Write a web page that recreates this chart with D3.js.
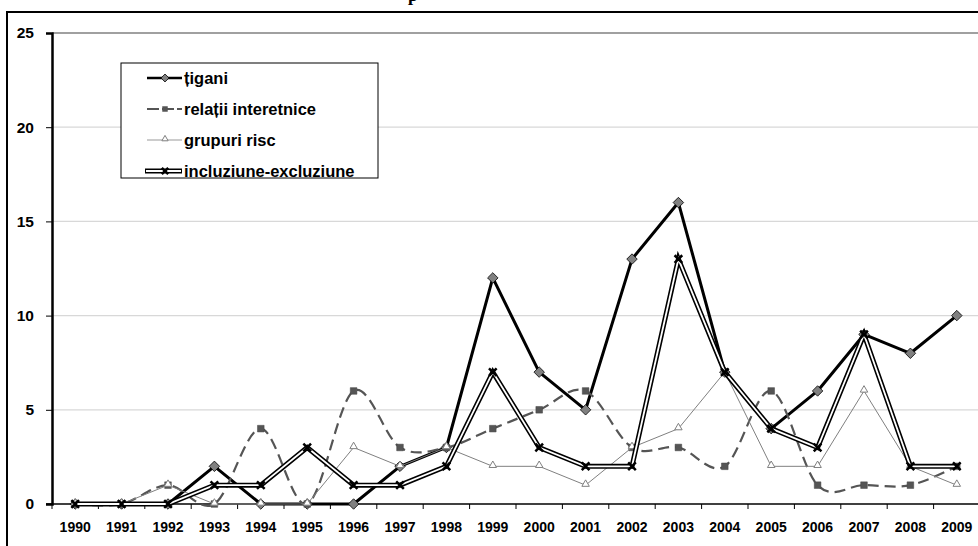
<!DOCTYPE html>
<html>
<head>
<meta charset="utf-8">
<script src="https://cdn.jsdelivr.net/npm/d3@7"></script>
<style>
  html, body { margin: 0; padding: 0; background: #fff; overflow: hidden; }
  svg { display: block; font-family: "Liberation Sans", Arial, sans-serif; }
</style>
</head>
<body>
<svg id="chart" width="978" height="546"></svg>
<script>
const years = ["1990","1991","1992","1993","1994","1995","1996","1997","1998","1999","2000","2001","2002","2003","2004","2005","2006","2007","2008","2009"];
const tigani = [0,0,0,2,0,0,0,2,3,12,7,5,13,16,7,4,6,9,8,10];
const relatii = [0,0,1,0,4,0,6,3,3,4,5,6,3,3,2,6,1,1,1,2];
const grupuri = [0,0,1,0,0,0,3,2,3,2,2,1,3,4,7,2,2,6,2,1];
const incluziune = [0,0,0,1,1,3,1,1,2,7,3,2,2,13,7,4,3,9,2,2];
const yTicks = [0,5,10,15,20,25];
const seriesNames = ["țigani","relații interetnice","grupuri risc","incluziune-excluziune"];

const svg = d3.select("#chart");

// outer chart border
svg.append("rect").attr("x", 7).attr("y", 12).attr("width", 990).attr("height", 560)
  .attr("fill", "none").attr("stroke", "#000").attr("stroke-width", 2);

// cropped title (only the descender is visible)
svg.append("text").attr("x", 408).attr("y", 1)
  .attr("font-family", "'Liberation Serif', 'Times New Roman', serif")
  .attr("font-weight", "bold").attr("font-size", 18).text("p");

const pLeft = 52, pRight = 980, pTop = 33, pBottom = 504;
const x = d3.scaleBand().domain(years).range([pLeft, pRight]).padding(0);
const y = d3.scaleLinear().domain([0, 25]).range([pBottom, pTop]);
const cx = d => x(d) + x.bandwidth() / 2;

// gridlines
svg.append("g").selectAll("line").data(yTicks.filter(t => t > 0)).join("line")
  .attr("x1", pLeft).attr("x2", pRight)
  .attr("y1", d => y(d)).attr("y2", d => y(d))
  .attr("stroke", d => d === 25 ? "#a0a0a0" : "#d8d8d8").attr("stroke-width", d => d === 25 ? 2 : 1.2);

// y axis
const yAxis = svg.append("g").attr("transform", `translate(${pLeft},0)`)
  .call(d3.axisLeft(y).tickValues(yTicks).tickSize(6).tickPadding(12).tickFormat(d3.format("d")));
yAxis.select(".domain").attr("stroke", "#000").attr("stroke-width", 2.5);
yAxis.selectAll(".tick line").attr("stroke", "#000").attr("stroke-width", 1);
yAxis.selectAll("text").attr("font-size", 15.5).attr("font-weight", "bold").attr("fill", "#000")
  .attr("font-family", "'Liberation Sans', Arial, sans-serif");

// x axis
const xAxisG = svg.append("g").attr("transform", `translate(0,${pBottom})`);
xAxisG.append("line").attr("x1", pLeft - 6).attr("x2", pRight).attr("y1", 0).attr("y2", 0)
  .attr("stroke", "#000").attr("stroke-width", 1.5);
xAxisG.selectAll("line.tk").data(years).join("line").attr("class", "tk")
  .attr("x1", d => x(d)).attr("x2", d => x(d)).attr("y1", 0).attr("y2", 5)
  .attr("stroke", "#000").attr("stroke-width", 1);
xAxisG.selectAll("text").data(years).join("text")
  .attr("x", d => cx(d)).attr("y", 28).attr("text-anchor", "middle")
  .attr("font-size", 14).attr("font-weight", "bold").attr("fill", "#000").text(d => d);

const lineStraight = d3.line().x((d, i) => cx(years[i])).y(d => y(d));
const lineSmooth = d3.line().x((d, i) => cx(years[i])).y(d => y(d)).curve(d3.curveCardinal.tension(0));

// țigani
svg.append("path").datum(tigani).attr("d", lineStraight)
  .attr("fill", "none").attr("stroke", "#000").attr("stroke-width", 3).attr("stroke-linejoin", "round");
svg.append("g").selectAll("path").data(tigani).join("path")
  .attr("transform", (d, i) => `translate(${cx(years[i])},${y(d)})`)
  .attr("d", d3.symbol(d3.symbolDiamond2, 70))
  .attr("fill", "#808080").attr("stroke", "#000").attr("stroke-width", 0.8);

// relații interetnice
svg.append("path").datum(relatii).attr("d", lineSmooth)
  .attr("fill", "none").attr("stroke", "#555").attr("stroke-width", 2.2).attr("stroke-dasharray", "11,6");
svg.append("g").selectAll("path").data(relatii).join("path")
  .attr("transform", (d, i) => `translate(${cx(years[i])},${y(d)})`)
  .attr("d", d3.symbol(d3.symbolSquare, 44))
  .attr("fill", "#555").attr("stroke", "#444").attr("stroke-width", 0.5);

// grupuri risc
svg.append("path").datum(grupuri).attr("d", lineStraight)
  .attr("fill", "none").attr("stroke", "#808080").attr("stroke-width", 1);
svg.append("g").selectAll("path").data(grupuri).join("path")
  .attr("transform", (d, i) => `translate(${cx(years[i])},${y(d) - 1})`)
  .attr("d", d3.symbol(d3.symbolTriangle2, 40))
  .attr("fill", "#fff").attr("stroke", "#808080").attr("stroke-width", 1);

// incluziune-excluziune (double line)
svg.append("path").datum(incluziune).attr("d", lineStraight)
  .attr("fill", "none").attr("stroke", "#000").attr("stroke-width", 5).attr("stroke-linejoin", "miter");
svg.append("path").datum(incluziune).attr("d", lineStraight)
  .attr("fill", "none").attr("stroke", "#fff").attr("stroke-width", 1.8).attr("stroke-linejoin", "miter");
svg.append("g").selectAll("path").data(incluziune).join("path")
  .attr("transform", (d, i) => `translate(${cx(years[i])},${y(d)})`)
  .attr("d", d3.symbol(d3.symbolTimes, 40))
  .attr("fill", "none").attr("stroke", "#000").attr("stroke-width", 2.5);

// legend
const lg = svg.append("g");
lg.append("rect").attr("x", 121).attr("y", 63).attr("width", 257).attr("height", 115)
  .attr("fill", "#fff").attr("stroke", "#000").attr("stroke-width", 1);
const ly = [78, 109, 140, 171];
const lx1 = 147, lx2 = 182, lmid = 165;
// țigani
lg.append("line").attr("x1", lx1).attr("x2", lx2).attr("y1", ly[0]).attr("y2", ly[0]).attr("stroke", "#000").attr("stroke-width", 2.5);
lg.append("path").attr("transform", `translate(${lmid},${ly[0]})`).attr("d", d3.symbol(d3.symbolDiamond2, 40))
  .attr("fill", "#808080").attr("stroke", "#000").attr("stroke-width", 0.8);
// relatii
lg.append("line").attr("x1", lx1).attr("x2", lx2).attr("y1", ly[1]).attr("y2", ly[1]).attr("stroke", "#555").attr("stroke-width", 2).attr("stroke-dasharray", "12,3");
lg.append("path").attr("transform", `translate(${lmid},${ly[1]})`).attr("d", d3.symbol(d3.symbolSquare, 30)).attr("fill", "#555");
// grupuri
lg.append("line").attr("x1", lx1).attr("x2", lx2).attr("y1", ly[2]).attr("y2", ly[2]).attr("stroke", "#999").attr("stroke-width", 1);
lg.append("path").attr("transform", `translate(${lmid},${ly[2] - 1})`).attr("d", d3.symbol(d3.symbolTriangle2, 28))
  .attr("fill", "#fff").attr("stroke", "#808080").attr("stroke-width", 1);
// incluziune
lg.append("line").attr("x1", lx1 - 2).attr("x2", lx2).attr("y1", ly[3]).attr("y2", ly[3]).attr("stroke", "#000").attr("stroke-width", 5);
lg.append("line").attr("x1", lx1 - 1).attr("x2", lx2 - 1).attr("y1", ly[3]).attr("y2", ly[3]).attr("stroke", "#fff").attr("stroke-width", 1.8);
lg.append("path").attr("transform", `translate(${lmid},${ly[3]})`).attr("d", d3.symbol(d3.symbolTimes, 28))
  .attr("fill", "none").attr("stroke", "#000").attr("stroke-width", 2.5);

lg.selectAll("text.lab").data(seriesNames).join("text").attr("class", "lab")
  .attr("x", 184).attr("y", (d, i) => ly[i] + 6)
  .attr("font-size", 16.5).attr("font-weight", "bold").attr("fill", "#000").text(d => d);
</script>
</body>
</html>
